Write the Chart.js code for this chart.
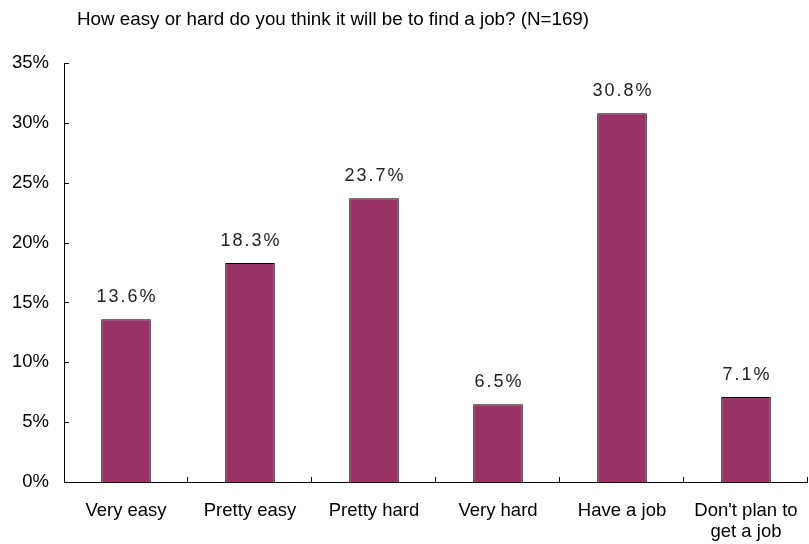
<!DOCTYPE html>
<html>
<head>
<meta charset="utf-8">
<script src="https://cdn.jsdelivr.net/npm/chart.js@4.4.1/dist/chart.umd.min.js"></script>
<style>
  html, body { margin: 0; padding: 0; background: #ffffff; }
  #wrap { width: 809px; height: 544px; position: relative; }
</style>
</head>
<body>
<div id="wrap"><canvas id="c" width="809" height="544"></canvas></div>
<script>
const categories = ["Very easy", "Pretty easy", "Pretty hard", "Very hard", "Have a job", ["Don't plan to", "get a job"]];
const shares = [13.6, 18.3, 23.7, 6.5, 30.8, 7.1];
const yTicks = [0, 5, 10, 15, 20, 25, 30, 35];
const titleText = "How easy or hard do you think it will be to find a job? (N=169)";

const FONT = "'Liberation Sans', Arial, sans-serif";

// Axis lines with short inward tick marks, title, and value labels above bars
const decor = {
  id: 'decor',
  afterDatasetsDraw(chart) {
    const ctx = chart.ctx;
    const ys = chart.scales.y;
    const a = chart.chartArea;
    ctx.save();
    ctx.strokeStyle = '#000';
    ctx.lineWidth = 1;
    ctx.beginPath();
    // y axis
    ctx.moveTo(Math.round(a.left) + 0.5, a.top);
    ctx.lineTo(Math.round(a.left) + 0.5, a.bottom);
    // x axis
    ctx.moveTo(a.left, Math.round(a.bottom) + 0.5);
    ctx.lineTo(a.right, Math.round(a.bottom) + 0.5);
    // y ticks pointing inward
    yTicks.forEach(v => {
      const y = Math.round(ys.getPixelForValue(v)) + 0.5;
      ctx.moveTo(a.left, y);
      ctx.lineTo(a.left + 5, y);
    });
    // x ticks between categories, pointing up
    const n = categories.length;
    const step = (a.right - a.left) / n;
    for (let i = 1; i <= n; i++) {
      const x = Math.round(a.left + step * i) - 0.5;
      ctx.moveTo(x, a.bottom);
      ctx.lineTo(x, a.bottom - 5);
    }
    ctx.stroke();

    // value labels
    ctx.fillStyle = '#222';
    ctx.font = '18px ' + FONT;
    ctx.textAlign = 'center';
    ctx.textBaseline = 'alphabetic';
    if ('letterSpacing' in ctx) ctx.letterSpacing = '2px';
    const meta = chart.getDatasetMeta(0);
    meta.data.forEach((bar, i) => {
      ctx.fillText(shares[i].toFixed(1) + '%', bar.x + 1, bar.y - 17);
    });
    if ('letterSpacing' in ctx) ctx.letterSpacing = '0px';

    // title
    ctx.fillStyle = '#000';
    ctx.font = '18.8px ' + FONT;
    ctx.textAlign = 'left';
    ctx.textBaseline = 'alphabetic';
    ctx.fillText(titleText, 77, 25);
    ctx.restore();
  }
};

new Chart(document.getElementById('c'), {
  type: 'bar',
  data: {
    labels: categories,
    datasets: [{
      data: shares,
      backgroundColor: '#993366',
      borderColor: '#000000',
      borderWidth: 1,
      borderSkipped: 'bottom',
      categoryPercentage: 1.0,
      barPercentage: 0.4
    }]
  },
  options: {
    responsive: false,
    animation: false,
    devicePixelRatio: 1,
    layout: { padding: { top: 63, left: 0, right: 1, bottom: 0 } },
    plugins: {
      legend: { display: false },
      title: { display: false },
      tooltip: { enabled: false }
    },
    scales: {
      x: {
        grid: { display: false, drawTicks: false },
        border: { display: false },
        ticks: {
          color: '#000',
          font: { family: FONT, size: 18.5, lineHeight: 1.15 },
          padding: 18,
          maxRotation: 0,
          autoSkip: false
        },
        afterFit(scale) {
          scale.height = 62;
          scale.paddingLeft = 0;
          scale.paddingRight = 0;
        }
      },
      y: {
        min: 0,
        max: 35,
        grid: { display: false, drawTicks: false },
        border: { display: false },
        afterBuildTicks(scale) { scale.ticks = yTicks.map(v => ({ value: v })); },
        ticks: {
          color: '#000',
          font: { family: FONT, size: 18.5 },
          padding: 15,
          callback: v => v + '%'
        },
        afterFit(scale) {
          scale.width = 64;
          scale.paddingTop = 0;
          scale.paddingBottom = 0;
        }
      }
    }
  },
  plugins: [decor]
});
</script>
</body>
</html>
